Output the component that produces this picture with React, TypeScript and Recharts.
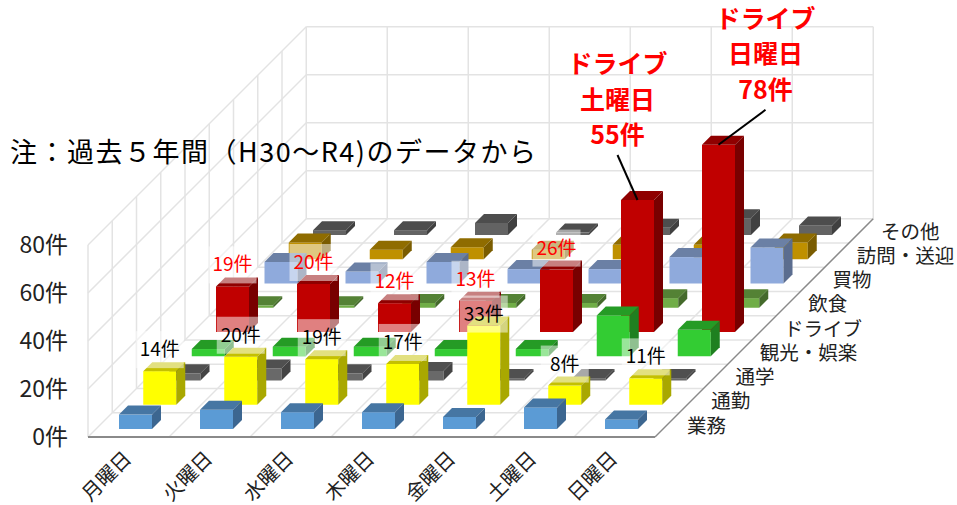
import React from 'react';
import { BarChart, Bar, XAxis, YAxis } from 'recharts';

const days = ['月曜日', '火曜日', '水曜日', '木曜日', '金曜日', '土曜日', '日曜日'];
const seriesNames = ['業務', '通勤', '通学', '観光・娯楽', 'ドライブ', '飲食', '買物', '訪問・送迎', 'その他'];
const yTicks = [0, 20, 40, 60, 80];

const gyomu = [6, 8, 7, 7, 5, 9, 4];
const tsukin = [14, 20, 19, 17, 33, 8, 11];
const tsugaku = [3, 5, 3, 4, 1, 1, 1];
const kanko = [3, 4, 4, 3, 3, 17, 11];
const drive = [19, 20, 12, 13, 26, 55, 78];
const inshoku = [1, 1, 2, 2, 2, 4, 4];
const kaimono = [9, 5, 9, 6, 6, 11, 15];
const homon = [7, 4, 5, 4, 6, 6, 7];
const sonota = [2, 2, 5, 1, 3, 7, 4];

const seriesValues = [gyomu, tsukin, tsugaku, kanko, drive, inshoku, kaimono, homon, sonota];

// front / top / side
const palette = [
  ['#5b9bd5', '#4676a3', '#3c6690'],
  ['#ffff00', '#c4c000', '#a9a800'],
  ['#696969', '#505050', '#444444'],
  ['#33cc33', '#259b25', '#1f8020'],
  ['#c00000', '#8f0000', '#780000'],
  ['#70ad47', '#548235', '#446a2b'],
  ['#8faadc', '#6b80a5', '#5b6d8f'],
  ['#bf9000', '#8f6c00', '#7a5c00'],
  ['#636363', '#4d4d4d', '#404040'],
];

const rows = days.map((day, d) => {
  const row: Record<string, string | number> = { day };
  seriesNames.forEach((name, s) => {
    row[name] = seriesValues[s][d];
  });
  return row;
});

// 斜投影の設定
const FONT = '"Noto Sans CJK JP", sans-serif';
const LEFT = 88;
const BOTTOM = 437;
const PLOT_W = 567;
const PLOT_H = 192;
const STEP = 24.25; // 系列1本ぶんの奥行き
const BAR_W = 33;
const BAR_DEPTH = 9;
const FRONT_X = 7;
const FRONT_Y = 8;
const GRID = '#e3e3e3';

const offsetOf = (s: number) => ({ dx: FRONT_X + s * STEP, dy: -(FRONT_Y + s * STEP) });

const boxShape = (s: number) => (props: any) => {
  const { x, y, width, height } = props;
  const { dx, dy } = offsetOf(s);
  const [front, top, side] = palette[s];
  const l = x + dx;
  const r = l + width;
  const t = y + dy;
  const b = t + height;
  const d = BAR_DEPTH;
  return (
    <g>
      <rect x={l} y={t} width={width} height={height} fill={front} />
      <polygon points={`${l},${t} ${l + d},${t - d} ${r + d},${t - d} ${r},${t}`} fill={top} />
      <polygon points={`${r},${t} ${r + d},${t - d} ${r + d},${b - d} ${r},${b}`} fill={side} />
    </g>
  );
};

const labelNudge: Record<string, number> = { '1-4': 10 };
const callouts: Record<number, { dx: number; dy: number; name: string }> = {
  5: { dx: -20, dy: -45, name: 'ドライブ' },
  6: { dx: 47, dy: -35, name: 'ドライブ' },
};

const labelShape = (s: number, color: string) => (props: any) => {
  const { x, y, width, index, value } = props;
  const { dx, dy } = offsetOf(s);
  const cx = x + dx + width / 2;
  const top = y + dy;
  const callout = s === 4 ? callouts[index] : undefined;
  if (callout) {
    const ex = cx + callout.dx;
    const ey = top + callout.dy;
    return (
      <g>
        <line x1={cx} y1={top} x2={ex} y2={ey} stroke="#000" strokeWidth={2} />
        {[callout.name, days[index], `${value}件`].map((txt, i) => (
          <text
            key={txt}
            x={ex}
            y={ey - 93 + i * 35.5}
            fill="#ff0000"
            fontFamily={FONT}
            fontWeight={700}
            fontSize={25}
            textAnchor="middle"
            dominantBaseline="central"
          >
            {txt}
          </text>
        ))}
      </g>
    );
  }
  const cy = top - 22 + (labelNudge[`${s}-${index}`] || 0);
  return (
    <g>
      <rect x={cx - 24} y={cy - 18} width={48} height={37} fill="#fff" fillOpacity={0.5} />
      <text
        x={cx}
        y={cy - 1.5}
        fill={color}
        fontFamily={FONT}
        fontSize={19}
        textAnchor="middle"
        dominantBaseline="central"
      >
        {`${value}件`}
      </text>
    </g>
  );
};

const DayTick = (props: any) => {
  const { x, payload } = props;
  const cx = x - 23;
  const cy = 475;
  return (
    <text
      x={cx}
      y={cy}
      transform={`rotate(-45 ${cx} ${cy})`}
      fontFamily={FONT}
      fontSize={20}
      fill="#222"
      textAnchor="middle"
      dominantBaseline="central"
    >
      {payload.value}
    </text>
  );
};

const ValueTick = (props: any) => {
  const { x, y, payload } = props;
  return (
    <text
      x={x + 7}
      y={y - 2}
      fontFamily={FONT}
      fontSize={23}
      fill="#222"
      textAnchor="end"
      dominantBaseline="central"
    >
      {`${payload.value}件`}
    </text>
  );
};

function Walls() {
  const depth = seriesNames.length * STEP;
  const colW = PLOT_W / days.length;
  const lines: React.ReactNode[] = [];
  const add = (x1: number, y1: number, x2: number, y2: number, stroke = GRID, w = 1.5) =>
    lines.push(<line key={lines.length} x1={x1} y1={y1} x2={x2} y2={y2} stroke={stroke} strokeWidth={w} />);

  // 床の横線と左壁の縦線
  seriesNames.forEach((_, i) => {
    const o = (i + 1) * STEP;
    add(LEFT + o, BOTTOM - o, LEFT + o + PLOT_W, BOTTOM - o);
    add(LEFT + o, BOTTOM - o, LEFT + o, BOTTOM - o - PLOT_H);
  });
  add(LEFT, BOTTOM, LEFT, BOTTOM - PLOT_H);
  // 床の斜め線と奥の壁の縦線
  days.forEach((_, i) => {
    const x = LEFT + i * colW;
    add(x, BOTTOM, x + depth, BOTTOM - depth);
    add(x + depth + colW, BOTTOM - depth, x + depth + colW, BOTTOM - depth - PLOT_H);
  });
  // 目盛り線
  yTicks.slice(1).forEach((t) => {
    const y = BOTTOM - (t / 80) * PLOT_H;
    add(LEFT, y, LEFT + depth, y - depth);
    add(LEFT + depth, y - depth, LEFT + depth + PLOT_W, y - depth);
  });
  // 手前の軸と奥行き軸
  add(LEFT, BOTTOM, LEFT + PLOT_W, BOTTOM, '#8a8a8a', 2);
  add(LEFT + PLOT_W, BOTTOM, LEFT + PLOT_W + depth, BOTTOM - depth, '#8a8a8a', 1.5);
  return <g>{lines}</g>;
}

function DepthLabels() {
  return (
    <g>
      {seriesNames.map((name, i) => (
        <text
          key={name}
          x={687 + i * STEP}
          y={424 - i * STEP}
          fontFamily={FONT}
          fontSize={19.5}
          fill="#222"
          dominantBaseline="central"
        >
          {name}
        </text>
      ))}
    </g>
  );
}

export default function App() {
  // 奥の系列から順に描く
  const order = seriesNames.map((_, i) => i).reverse();
  return (
    <div style={{ position: 'absolute', left: 0, top: 0, width: 957, height: 505, background: '#fff' }}>
      <BarChart
        width={957}
        height={505}
        data={rows}
        margin={{ top: 245, right: 302, bottom: 0, left: 0 }}
        barSize={BAR_W}
      >
        <Walls />
        <YAxis
          type="number"
          domain={[0, 80]}
          ticks={yTicks}
          width={88}
          axisLine={false}
          tickLine={false}
          tick={<ValueTick />}
          tickMargin={21}
        />
        {seriesNames.map((name, s) => (
          <XAxis
            key={name}
            xAxisId={name}
            dataKey="day"
            hide={s !== 0}
            height={68}
            axisLine={false}
            tickLine={false}
            tick={<DayTick />}
            interval={0}
          />
        ))}
        <XAxis xAxisId="label-通勤" dataKey="day" hide />
        <XAxis xAxisId="label-ドライブ" dataKey="day" hide />
        {order.map((s) => (
          <Bar
            key={seriesNames[s]}
            xAxisId={seriesNames[s]}
            dataKey={seriesNames[s]}
            shape={boxShape(s)}
            isAnimationActive={false}
          />
        ))}
        <Bar xAxisId="label-ドライブ" dataKey="ドライブ" shape={labelShape(4, '#ff0000')} isAnimationActive={false} />
        <Bar xAxisId="label-通勤" dataKey="通勤" shape={labelShape(1, '#000')} isAnimationActive={false} />
        <DepthLabels />
        <text x={10} y={150} fontFamily={FONT} fontSize={27} fill="#000" dominantBaseline="central" textLength={526}>
          注：過去５年間（H30～R4)のデータから
        </text>
      </BarChart>
    </div>
  );
}
